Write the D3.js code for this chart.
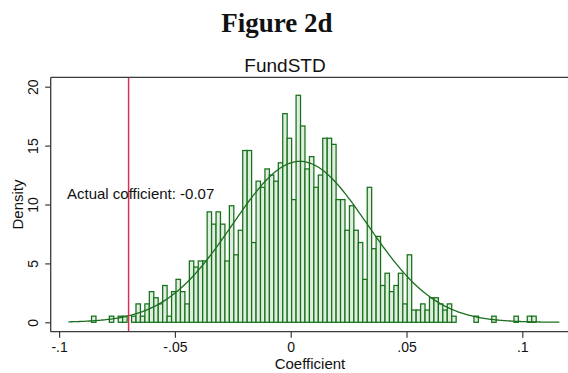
<!DOCTYPE html>
<html>
<head>
<meta charset="utf-8">
<script src="https://cdn.jsdelivr.net/npm/d3@7"></script>
<style>
  body { margin: 0; background: #fff; }
  svg { display: block; }
  text { font-family: Arial, "Liberation Sans", sans-serif; fill: #111; }
</style>
</head>
<body>
<div id="chart-area"></div>
<script>

// histogram of 1000 placebo coefficients, 100 bins
const binStart = -0.0860;
const binWidth = 0.00192;
const binCounts = [
  1, 0, 0, 0, 1, 0, 1, 1, 0, 1,
  3, 1, 3, 5, 4, 3, 6, 1, 5, 7,
  5, 3, 10, 9, 10, 10, 18, 16, 18, 16,
  10, 19, 11, 15, 28, 28, 13, 23, 22, 25,
  24, 23, 26, 34, 30, 20, 37, 32, 25, 27,
  22, 24, 30, 30, 29, 20, 20, 15, 19, 15,
  13, 7, 22, 12, 14, 6, 8, 5, 6, 8,
  3, 11, 2, 2, 3, 2, 4, 4, 3, 2,
  3, 1, 0, 0, 0, 0, 1, 0, 0, 0,
  1, 0, 0, 0, 0, 1, 0, 0, 1, 1
];
const actualCoef = -0.07;

// normal overlay
const normalMean = 0.004;
const normalSd = 0.0292;
const curveRange = [-0.096, 0.116];

const xTicks = [-0.1, -0.05, 0, 0.05, 0.1];
const xTickLabels = ["-.1", "-.05", "0", ".05", ".1"];
const yTicks = [0, 5, 10, 15, 20];
const yTickLabels = ["0", "5", "10", "15", "20"];

const barStroke = '#15701a';
const barFill = '#dfeedf';
const lineColor = '#1b6e1e';
const redColor = '#d6305c';

const W = 568, H = 373;
const frame = { left: 50.7, top: 77.3, bottom: 331.7, right: 570 };

const svg = d3.select("#chart-area").append("svg")
  .attr("width", W)
  .attr("height", H);

const x = d3.scaleLinear()
  .domain([-0.1, 0.1])
  .range([59.1, 522.3]);

const y = d3.scaleLinear()
  .domain([0, 20])
  .range([322.3, 86.7]);

const N = d3.sum(binCounts);
const bins = binCounts.map((c, i) => ({
  x0: binStart + i * binWidth,
  x1: binStart + (i + 1) * binWidth,
  count: c,
  density: c / (N * binWidth)
}));

// titles
svg.append("text")
  .attr("x", 277).attr("y", 32)
  .attr("text-anchor", "middle")
  .style("font-family", "'Liberation Serif', 'Times New Roman', serif")
  .style("font-weight", "bold")
  .style("font-size", "27px")
  .text("Figure 2d");

svg.append("text")
  .attr("x", 285).attr("y", 71.5)
  .attr("text-anchor", "middle")
  .style("font-size", "19px")
  .text("FundSTD");

// bars
svg.selectAll("rect.bar")
  .data(bins.filter(d => d.count > 0))
  .enter().append("rect")
  .attr("class", "bar")
  .attr("x", d => x(d.x0))
  .attr("width", d => x(d.x1) - x(d.x0))
  .attr("y", d => y(d.density))
  .attr("height", d => y(0) - y(d.density))
  .attr("fill", barFill)
  .attr("stroke", barStroke)
  .attr("stroke-width", 1.25);

// normal density
const curvePts = d3.range(0, 301).map(i => {
  const v = curveRange[0] + (curveRange[1] - curveRange[0]) * i / 300;
  const z = (v - normalMean) / normalSd;
  return [v, Math.exp(-0.5 * z * z) / (normalSd * Math.sqrt(2 * Math.PI))];
});

svg.append("path")
  .datum(curvePts)
  .attr("fill", "none")
  .attr("stroke", lineColor)
  .attr("stroke-width", 1.3)
  .attr("d", d3.line().x(d => x(d[0])).y(d => y(d[1])));

// actual coefficient line
svg.append("line")
  .attr("x1", x(actualCoef)).attr("x2", x(actualCoef))
  .attr("y1", frame.top).attr("y2", frame.bottom)
  .attr("stroke", redColor)
  .attr("stroke-width", 1.5);

svg.append("text")
  .attr("x", 67).attr("y", 198.5)
  .style("font-size", "15px")
  .text("Actual cofficient: -0.07");

// frame
const axisColor = '#3a3a3a';
svg.append("line")
  .attr("x1", frame.left).attr("x2", frame.left)
  .attr("y1", frame.top).attr("y2", frame.bottom)
  .attr("stroke", axisColor).attr("stroke-width", 1.3);
svg.append("line")
  .attr("x1", frame.left).attr("x2", frame.right)
  .attr("y1", frame.top).attr("y2", frame.top)
  .attr("stroke", axisColor).attr("stroke-width", 1.3);
svg.append("line")
  .attr("x1", frame.left).attr("x2", frame.right)
  .attr("y1", frame.bottom).attr("y2", frame.bottom)
  .attr("stroke", axisColor).attr("stroke-width", 1.3);

// x axis
const xAxis = d3.axisBottom(x)
  .tickValues(xTicks)
  .tickFormat((d, i) => xTickLabels[i])
  .tickSize(6)
  .tickPadding(4);

const gx = svg.append("g")
  .attr("transform", `translate(0,${frame.bottom})`)
  .call(xAxis);
gx.select(".domain").remove();
gx.selectAll(".tick line").attr("stroke", axisColor).attr("stroke-width", 1.2);
gx.selectAll(".tick text")
  .style("font-size", "14px")
  .attr("fill", "#111");

// y axis, labels rotated
const yAxis = d3.axisLeft(y)
  .tickValues(yTicks)
  .tickFormat((d, i) => yTickLabels[i])
  .tickSize(5.5);

const gy = svg.append("g")
  .attr("transform", `translate(${frame.left},0)`)
  .call(yAxis);
gy.select(".domain").remove();
gy.selectAll(".tick line").attr("stroke", axisColor).attr("stroke-width", 1.2);
gy.selectAll(".tick text")
  .attr("x", null).attr("dy", null)
  .attr("transform", "translate(-12.5,0) rotate(-90)")
  .attr("text-anchor", "middle")
  .style("font-size", "14px")
  .attr("fill", "#111");

// axis titles
svg.append("text")
  .attr("transform", "translate(23,204.5) rotate(-90)")
  .attr("text-anchor", "middle")
  .style("font-size", "15px")
  .text("Density");

svg.append("text")
  .attr("x", 310).attr("y", 369)
  .attr("text-anchor", "middle")
  .style("font-size", "15px")
  .text("Coefficient");

</script>
</body>
</html>
